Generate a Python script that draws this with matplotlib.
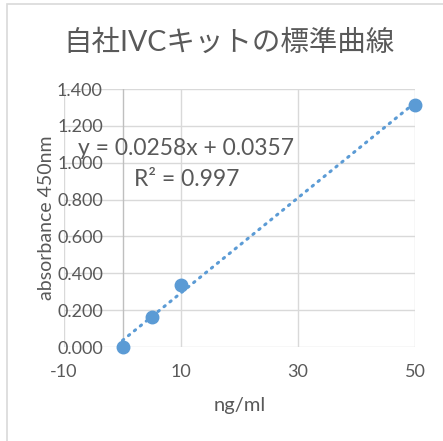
import numpy as np
import matplotlib.pyplot as plt
from matplotlib.patches import Rectangle

plt.rcParams['font.family'] = ['Lato', 'Noto Sans CJK JP', 'DejaVu Sans']

# Data
conc = [0, 5, 10, 50]
absorb = [0.0, 0.165, 0.335, 1.315]
slope = 0.0258
intercept = 0.0357
r2 = 0.997
x_ticks = [-10, 10, 30, 50]
y_ticks = [0.0, 0.2, 0.4, 0.6, 0.8, 1.0, 1.2, 1.4]

text_col = '#595959'
grid_col = '#D9D9D9'
blue = '#5B9BD5'

fig = plt.figure(figsize=(4.43, 4.41), dpi=100)
fig.patches.append(Rectangle((7 / 443, -0.1), 1.2, 1.1 - 4 / 441,
                             transform=fig.transFigure, fill=False,
                             edgecolor='#D9D9D9', linewidth=1.2))

ax = fig.add_axes([64 / 443, 1 - 347 / 441, 351 / 443, 258 / 441])
ax.set_xlim(-10, 50)
ax.set_ylim(0, 1.4)

# gridlines
for xv in x_ticks:
    ax.axvline(xv, color=grid_col, lw=1, zorder=0)
for yv in y_ticks:
    ax.axhline(yv, color=grid_col, lw=1, zorder=0)
ax.axvline(0, color='#BFBFBF', lw=1, zorder=0)

for s in ax.spines.values():
    s.set_visible(False)

ax.set_xticks(x_ticks)
ax.set_xticklabels([str(v) for v in x_ticks])
ax.set_yticks(y_ticks)
ax.set_yticklabels([f'{v:.3f}' for v in y_ticks])
ax.tick_params(length=0, colors=text_col, labelsize=13)
ax.tick_params(axis='x', pad=12)
ax.tick_params(axis='y', pad=-28)
for lab in ax.get_yticklabels():
    lab.set_horizontalalignment('right')

# trendline
xs = np.array([min(conc), max(conc)])
ax.plot(xs, slope * xs + intercept, color=blue, lw=2.2,
        linestyle=(0, (0.5, 2.0)), dash_capstyle='round', zorder=2)
ax.plot(conc, absorb, 'o', color=blue, ms=9, zorder=3, clip_on=False)

fig.text(186 / 443, 1 - 148 / 441, f'y = {slope}x + {intercept}',
         ha='center', va='center', fontsize=16.5, color=text_col)
fig.text(187 / 443, 1 - 180 / 441, f'R² = {r2}',
         ha='center', va='center', fontsize=16.5, color=text_col)

fig.text(229 / 443, 1 - 43 / 441, '自社IVCキットの標準曲線',
         ha='center', va='center', fontsize=20.5, color=text_col)
fig.text(240 / 443, 1 - 405 / 441, 'ng/ml',
         ha='center', va='center', fontsize=14.5, color=text_col)
fig.text(47 / 443, 1 - 218 / 441, 'absorbance 450nm', rotation=90,
         ha='center', va='center', fontsize=14, color=text_col)

fig.savefig('out.png', dpi=100)
